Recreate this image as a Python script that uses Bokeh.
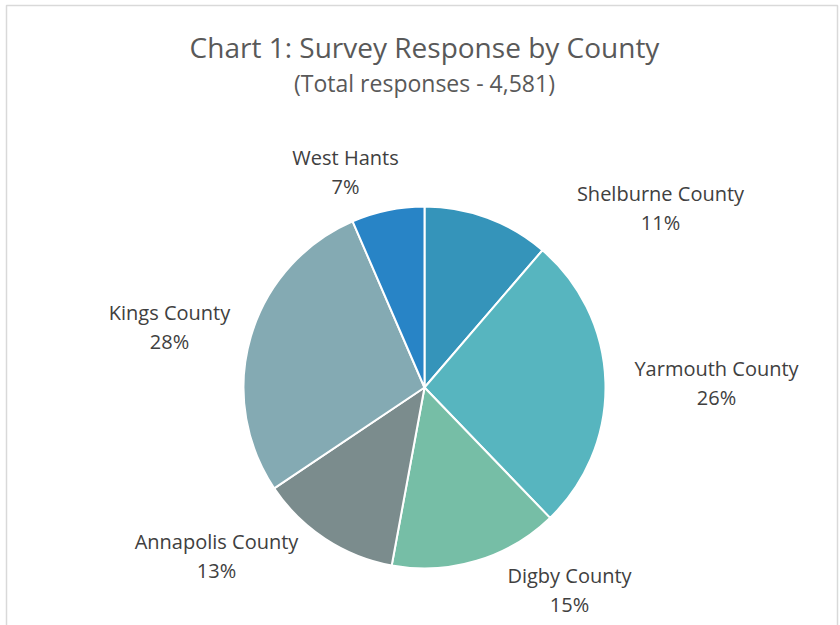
from math import pi
from bokeh.plotting import figure
from bokeh.models import Range1d, ColumnDataSource
from bokeh.core.properties import value
from bokeh.embed import file_html
from bokeh.resources import INLINE

# ---- data ----
counties = ["Shelburne County", "Yarmouth County", "Digby County",
            "Annapolis County", "Kings County", "West Hants"]
shares = [11.3, 26.5, 15.1, 12.7, 27.9, 6.5]          # estimated slice shares (%)
pct_labels = ["11%", "26%", "15%", "13%", "28%", "7%"]  # labels as printed
colors = ["#3594ba", "#57b5bf", "#76bea6", "#7b8c8d", "#84aab3", "#2884c6"]
title_text = "Chart 1: Survey Response by County"
subtitle_text = "(Total responses - 4,581)"

# ---- layout (pixel-like data units, pie centre at 0,0) ----
W, H = 840, 625
cx_px, cy_px = 424, 387
R = 181
label_offsets = [(236, 180), (292, 5), (145, -202), (-208, -168), (-255, 61), (-79, 216)]

total = sum(shares)
starts, ends = [], []
cum = 0.0
for s in shares:
    starts.append(pi / 2 - 2 * pi * cum / total)
    cum += s
    ends.append(pi / 2 - 2 * pi * cum / total)

src = ColumnDataSource(dict(start=starts, end=ends, color=colors))

p = figure(width=W, height=H, output_backend="svg", toolbar_location=None,
           x_range=Range1d(-cx_px, W - cx_px), y_range=Range1d(cy_px - H, cy_px),
           min_border=0, background_fill_color="white", border_fill_color="white")
p.axis.visible = False
p.grid.visible = False
p.outline_line_color = None

# chart frame
p.quad(left=[6 - cx_px], right=[837 - cx_px], top=[cy_px - 5], bottom=[cy_px - H - 50],
       fill_color=None, line_color="#d9d9d9", line_width=1.5)

p.wedge(x=0, y=0, radius=R, start_angle="start", end_angle="end", direction="clock",
        fill_color="color", line_color="white", line_width=2, source=src)

font = value("Open Sans")
lx = [o[0] for o in label_offsets]
ly = [o[1] for o in label_offsets]
p.text(x=lx, y=[v + 14 for v in ly], text=counties, text_align="center",
       text_baseline="middle", text_font=font, text_font_size="20px", text_color="#404040")
p.text(x=lx, y=[v - 15 for v in ly], text=pct_labels, text_align="center",
       text_baseline="middle", text_font=font, text_font_size="20px", text_color="#404040")

p.text(x=[0], y=[cy_px - 46], text=[title_text], text_align="center", text_baseline="middle",
       text_font=font, text_font_size="28px", text_color="#595959")
p.text(x=[0], y=[cy_px - 82], text=[subtitle_text], text_align="center", text_baseline="middle",
       text_font=font, text_font_size="23px", text_color="#595959")

open("out.html", "w").write(file_html(p, INLINE))
